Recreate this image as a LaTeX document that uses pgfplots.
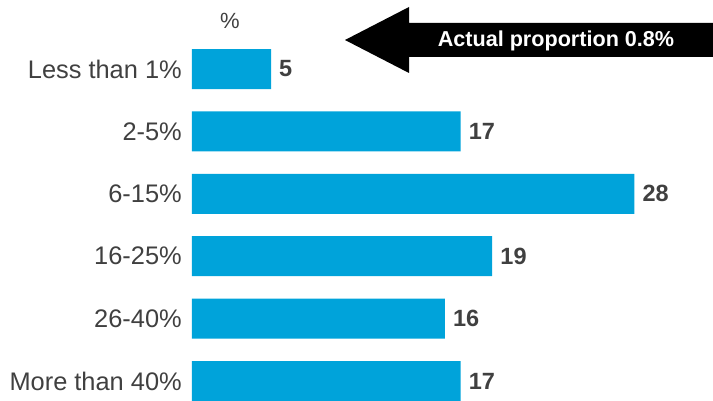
\documentclass[border=0pt]{standalone}
\usepackage{fontspec}
\setmainfont{Liberation Sans}
\usepackage{pgfplots}
\pgfplotsset{compat=1.18}
\definecolor{barblue}{HTML}{00A3DA}
\definecolor{txt}{HTML}{404040}
\begin{document}
\begin{tikzpicture}[x=1pt,y=1pt]
\begin{axis}[
 at={(0,0)}, anchor=south west,
 scale only axis, width=521pt, height=401pt,
 xbar, bar width=40pt,
 xmin=0, xmax=32.97,
 ymin=-1.106, ymax=5.32, y dir=reverse,
 axis line style={draw=none},
 xtick=\empty, ytick={0,...,5},
 yticklabels={Less than 1\%, 2-5\%, 6-15\%, 16-25\%, 26-40\%, More than 40\%},
 major tick length=0pt,
 yticklabel style={font=\fontsize{25.4}{25.4}\selectfont, text=txt, inner sep=0pt, xshift=-10pt},
 nodes near coords,
 nodes near coords style={font=\fontsize{23.5}{23.5}\selectfont\bfseries, text=txt, anchor=west, inner sep=0pt, xshift=8pt},
 /pgf/number format/assume math mode=true,
 clip=false,
]
\addplot[fill=barblue, draw=none] coordinates {(5,0) (17,1) (28,2) (19,3) (16,4) (17,5)};
\end{axis}
\fill[black] (153,361) -- (217,394) -- (217,378) -- (521,378) -- (521,344) -- (217,344) -- (217,328) -- cycle;
\node[anchor=base, text=white, font=\fontsize{21.6}{21.6}\selectfont\bfseries, inner sep=0pt] at (364,354.3) {Actual proportion 0.8\%};
\node[anchor=base, text=txt, font=\fontsize{22}{22}\selectfont, inner sep=0pt] at (38,372.7) {\%};
\pgfresetboundingbox
\path (-192,0) rectangle (521,401);
\end{tikzpicture}
\end{document}
